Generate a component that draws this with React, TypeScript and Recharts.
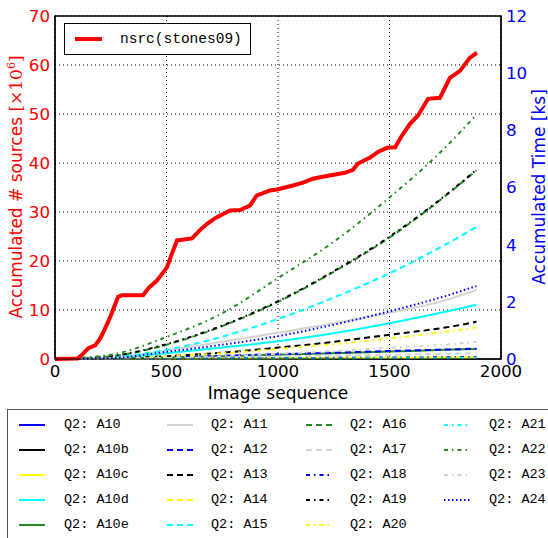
import { ComposedChart, Line, XAxis, YAxis, CartesianGrid, ReferenceArea } from "recharts";

// image index where each timing sample was taken
const steps = [0, 250, 500, 750, 1000, 1250, 1500, 1750, 1890];

// accumulated time per query [ks]
const a10 = [0, 0, 0.005, 0.01, 0.015, 0.02, 0.025, 0.03, 0.035];
const a10b = [0, 0, 0.002, 0.004, 0.006, 0.008, 0.01, 0.012, 0.014];
const a10c = [0, 0, 0.01, 0.015, 0.02, 0.03, 0.035, 0.04, 0.045];
const a10d = [0, 0.03, 0.2, 0.4, 0.62, 0.9, 1.25, 1.65, 1.9];
const a10e = [0, 0.01, 0.05, 0.1, 0.15, 0.2, 0.26, 0.32, 0.35];
const a11 = [0, 0.05, 0.3, 0.6, 0.92, 1.25, 1.62, 2.05, 2.42];
const a12 = [0, 0.01, 0.06, 0.11, 0.17, 0.22, 0.28, 0.33, 0.36];
const a13 = [0, 0.02, 0.1, 0.22, 0.4, 0.6, 0.85, 1.1, 1.3];
const a14 = [0, 0.005, 0.015, 0.025, 0.035, 0.045, 0.055, 0.065, 0.07];
const a15 = [0, 0.06, 0.32, 0.78, 1.4, 2.15, 3.0, 4.0, 4.62];
const a16 = [0, 0.1, 0.5, 1.15, 2.0, 3.05, 4.25, 5.7, 6.6];
const a17 = [0, 0.01, 0.03, 0.06, 0.09, 0.12, 0.15, 0.18, 0.2];
const a18 = [0, 0.005, 0.01, 0.02, 0.03, 0.04, 0.05, 0.06, 0.065];
const a19 = [0, 0.1, 0.52, 1.17, 2.02, 3.07, 4.28, 5.72, 6.62];
const a20 = [0, 0.02, 0.1, 0.2, 0.35, 0.52, 0.72, 0.95, 1.1];
const a21 = [0, 0.003, 0.008, 0.012, 0.016, 0.02, 0.025, 0.03, 0.033];
const a22 = [0, 0.15, 0.77, 1.6, 2.83, 4.1, 5.65, 7.4, 8.55];
const a23 = [0, 0.01, 0.05, 0.1, 0.18, 0.28, 0.4, 0.5, 0.6];
const a24 = [0, 0.03, 0.25, 0.5, 0.8, 1.2, 1.67, 2.2, 2.55];

// accumulated number of sources [x10^6]
const nsrcX = [
  0, 100, 120, 150, 180, 200, 215, 247, 283, 300, 395, 420, 457, 502, 520, 547,
  614, 650, 682, 720, 785, 830, 874, 905, 930, 964, 995, 1067, 1112, 1157, 1200,
  1250, 1300, 1336, 1359, 1413, 1450, 1489, 1525, 1556, 1592, 1628, 1673, 1726,
  1771, 1816, 1861, 1892,
];
const nsrcY = [
  0, 0.1, 0.8, 2.2, 2.8, 4, 5.3, 8.5, 12.7, 13, 13, 14.5, 16, 18.7, 21, 24.2,
  24.6, 26.3, 27.6, 28.8, 30.3, 30.4, 31.3, 33.4, 33.8, 34.4, 34.6, 35.4, 36,
  36.8, 37.2, 37.6, 38, 38.6, 39.9, 41.1, 42.3, 43.1, 43.2, 45.6, 48, 49.7, 53.1,
  53.3, 57.4, 58.8, 61.5, 62.5,
];

const xTicks = [0, 500, 1000, 1500, 2000];
const leftTicks = [0, 10, 20, 30, 40, 50, 60, 70];
const rightTicks = [0, 2, 4, 6, 8, 10, 12];

const DASHED = "6 4";
const DASHDOT = "4 4 1.5 4";
const DOTTED = "1.5 2.5";
const GREEN = "#228b22";
const GRAY = "#d3d3d3";

const series = [
  { name: "A10", values: a10, color: "#0000ff" },
  { name: "A10b", values: a10b, color: "#000000" },
  { name: "A10c", values: a10c, color: "#ffff00" },
  { name: "A10d", values: a10d, color: "#00ffff" },
  { name: "A10e", values: a10e, color: GREEN },
  { name: "A11", values: a11, color: GRAY },
  { name: "A12", values: a12, color: "#0000ff", dash: DASHED },
  { name: "A13", values: a13, color: "#000000", dash: DASHED },
  { name: "A14", values: a14, color: "#ffff00", dash: DASHED },
  { name: "A15", values: a15, color: "#00ffff", dash: DASHED },
  { name: "A16", values: a16, color: GREEN, dash: DASHED },
  { name: "A17", values: a17, color: GRAY, dash: DASHED },
  { name: "A18", values: a18, color: "#0000ff", dash: DASHDOT },
  { name: "A19", values: a19, color: "#000000", dash: DASHDOT },
  { name: "A20", values: a20, color: "#ffff00", dash: DASHDOT },
  { name: "A21", values: a21, color: "#00ffff", dash: DASHDOT },
  { name: "A22", values: a22, color: GREEN, dash: DASHDOT },
  { name: "A23", values: a23, color: GRAY, dash: DASHDOT },
  { name: "A24", values: a24, color: "#0000ff", dash: DOTTED },
];

const nsrcData = nsrcX.map((x, i) => ({ x, v: nsrcY[i] }));

const SANS = "'DejaVu Sans', sans-serif";
const MONO = "'Liberation Mono', monospace";
const TICK_SIZE = 16.7;

const legendLineX = [18, 166, 305, 443];
const legendTextX = [63, 210, 349, 488];
const legendRowY = [424, 449, 474, 499, 524];

function BottomLegend() {
  return (
    <div
      style={{
        position: "absolute",
        left: 7,
        top: 409,
        width: 600,
        height: 200,
        border: "1.5px solid #555",
        boxSizing: "border-box",
      }}
    >
      {series.map((s, i) => {
        const col = Math.floor(i / 5);
        const row = i % 5;
        const y = legendRowY[row] - 409;
        return (
          <div key={s.name}>
            <svg
              width={28}
              height={6}
              style={{ position: "absolute", left: legendLineX[col] - 7, top: y - 3 }}
            >
              <line
                x1={0}
                x2={26}
                y1={3}
                y2={3}
                stroke={s.color}
                strokeWidth={2}
                strokeDasharray={s.dash}
              />
            </svg>
            <span
              style={{
                position: "absolute",
                left: legendTextX[col] - 7,
                top: y - 9,
                lineHeight: "18px",
                fontFamily: MONO,
                fontSize: 13.5,
                color: "#000",
                whiteSpace: "nowrap",
              }}
            >
              Q2:&nbsp;{s.name}
            </span>
          </div>
        );
      })}
    </div>
  );
}

export default function App() {
  return (
    <div
      style={{
        position: "absolute",
        left: 0,
        top: 0,
        width: 548,
        height: 538,
        overflow: "hidden",
        background: "#fff",
      }}
    >
      <ComposedChart
        width={548}
        height={538}
        margin={{ top: 16, right: 0, bottom: 139, left: 0 }}
      >
        <CartesianGrid
          yAxisId="left"
          stroke="#000"
          strokeDasharray="1 3"
          strokeWidth={1}
        />
        <XAxis
          type="number"
          dataKey="x"
          domain={[0, 2000]}
          ticks={xTicks}
          stroke="#000"
          tickLine={false}
          tickSize={4}
          tickMargin={2}
          height={40}
          tick={{ fill: "#000", fontSize: TICK_SIZE, fontFamily: SANS }}
          allowDataOverflow
        />
        <YAxis
          yAxisId="left"
          orientation="left"
          domain={[0, 70]}
          ticks={leftTicks}
          width={55}
          stroke="#000"
          tickLine={false}
          tickSize={3}
          tickMargin={2}
          tick={{ fill: "#ff0000", fontSize: TICK_SIZE, fontFamily: SANS }}
        />
        <YAxis
          yAxisId="right"
          orientation="right"
          domain={[0, 12]}
          ticks={rightTicks}
          width={47}
          stroke="#000"
          tickLine={false}
          tickSize={3}
          tickMargin={2}
          tick={{ fill: "#0000ff", fontSize: TICK_SIZE, fontFamily: SANS }}
        />
        {series.map((s) => (
          <Line
            key={s.name}
            yAxisId="right"
            data={steps.map((x, i) => ({ x, v: s.values[i] }))}
            dataKey="v"
            type="monotone"
            stroke={s.color}
            strokeWidth={2}
            strokeDasharray={s.dash}
            dot={false}
            activeDot={false}
            isAnimationActive={false}
          />
        ))}
        <Line
          yAxisId="left"
          data={nsrcData}
          dataKey="v"
          type="linear"
          stroke="#ff0000"
          strokeWidth={4}
          dot={false}
          activeDot={false}
          isAnimationActive={false}
        />
        <ReferenceArea
          yAxisId="left"
          x1={0}
          x2={2000}
          y1={0}
          y2={70}
          fill="none"
          stroke="#000"
          strokeWidth={1.5}
          ifOverflow="visible"
        />
      </ComposedChart>

      <svg
        width={548}
        height={538}
        style={{ position: "absolute", left: 0, top: 0, pointerEvents: "none" }}
      >
        <text
          x={278}
          y={399}
          textAnchor="middle"
          fontFamily={SANS}
          fontSize={17}
          fill="#000"
        >
          Image sequence
        </text>
        <text
          transform="translate(22,187) rotate(-90)"
          textAnchor="middle"
          fontFamily={SANS}
          fontSize={17}
          fill="#ff0000"
        >
          Accumulated # sources{" "}
          <tspan fontFamily="'DejaVu Serif', serif">[×10</tspan>
          <tspan fontFamily="'DejaVu Serif', serif" fontSize={11} dy={-7}>
            6
          </tspan>
          <tspan fontFamily="'DejaVu Serif', serif" dy={7}>
            ]
          </tspan>
        </text>
        <text
          transform="translate(545,187) rotate(-90)"
          textAnchor="middle"
          fontFamily={SANS}
          fontSize={17}
          fill="#0000ff"
        >
          Accumulated Time [ks]
        </text>
      </svg>

      <div
        style={{
          position: "absolute",
          left: 64,
          top: 23,
          width: 187,
          height: 32,
          border: "1px solid #000",
          boxSizing: "border-box",
          background: "#fff",
        }}
      >
        <div
          style={{
            position: "absolute",
            left: 10,
            top: 13,
            width: 27,
            height: 4,
            background: "#ff0000",
          }}
        />
        <span
          style={{
            position: "absolute",
            left: 55,
            top: 5,
            lineHeight: "20px",
            fontFamily: MONO,
            fontSize: 14.5,
            color: "#000",
            whiteSpace: "nowrap",
          }}
        >
          nsrc(stones09)
        </span>
      </div>

      <BottomLegend />
    </div>
  );
}
